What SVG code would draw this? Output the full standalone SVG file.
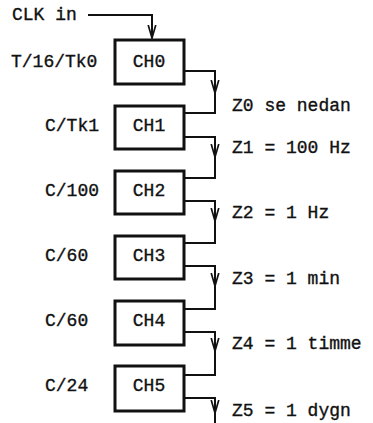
<svg xmlns="http://www.w3.org/2000/svg" width="373" height="423" viewBox="0 0 373 423">
  <style>
    .t { font-family: "Liberation Mono", "DejaVu Sans Mono", monospace; font-size: 18px; fill: #111; stroke: #111; stroke-width: 0.35; }
    .c { text-anchor: middle; }
    .box { fill: #fff; stroke: #111; stroke-width: 3; }
    .wire { fill: none; stroke: #111; stroke-width: 2; }
  </style>
  <defs>
    <!-- open barbed arrowhead, drawn along +x so orient="auto" follows the wire -->
    <marker id="arr" viewBox="0 0 14 10" refX="13" refY="5" markerWidth="14" markerHeight="10" markerUnits="userSpaceOnUse" orient="auto">
      <path d="M0,1.2 L13,5 L0,8.8" fill="none" stroke="#111" stroke-width="1.7"/>
    </marker>
  </defs>

  <rect width="373" height="423" fill="#fff"/>

  <!-- input clock -->
  <text class="t" x="12" y="20">CLK in</text>

  <g id="connectors">
    <path class="wire" d="M88,15 H152 V38" marker-end="url(#arr)"/>
    <!-- CH0 -> CH1 -->
    <path class="wire" d="M184,71 H215 V93" marker-end="url(#arr)"/>
    <path class="wire" d="M215,92 V113 H184"/>
    <!-- CH1 -> CH2 -->
    <path class="wire" d="M184,137 H215 V157" marker-end="url(#arr)"/>
    <path class="wire" d="M215,156 V178 H184"/>
    <!-- CH2 -> CH3 -->
    <path class="wire" d="M184,201 H215 V221" marker-end="url(#arr)"/>
    <path class="wire" d="M215,220 V243 H184"/>
    <!-- CH3 -> CH4 -->
    <path class="wire" d="M184,266 H215 V286" marker-end="url(#arr)"/>
    <path class="wire" d="M215,285 V309 H184"/>
    <!-- CH4 -> CH5 -->
    <path class="wire" d="M184,332 H215 V351" marker-end="url(#arr)"/>
    <path class="wire" d="M215,350 V375 H184"/>
    <!-- CH5 output -->
    <path class="wire" d="M184,398 H215 V413" marker-end="url(#arr)"/>
    <path class="wire" d="M215,412 V423"/>
  </g>

  <g id="ch0">
    <text class="t" x="11" y="67">T/16/Tk0</text>
    <rect class="box" x="115" y="40" width="69" height="44"/>
    <text class="t c" x="149" y="67">CH0</text>
  </g>
  <g id="ch1">
    <text class="t" x="45" y="131">C/Tk1</text>
    <rect class="box" x="115" y="106" width="69" height="43"/>
    <text class="t c" x="149" y="131">CH1</text>
  </g>
  <g id="ch2">
    <text class="t" x="45" y="196">C/100</text>
    <rect class="box" x="115" y="171" width="69" height="43"/>
    <text class="t c" x="149" y="196">CH2</text>
  </g>
  <g id="ch3">
    <text class="t" x="45" y="261">C/60</text>
    <rect class="box" x="115" y="236" width="69" height="43"/>
    <text class="t c" x="149" y="261">CH3</text>
  </g>
  <g id="ch4">
    <text class="t" x="45" y="326">C/60</text>
    <rect class="box" x="115" y="301" width="69" height="44"/>
    <text class="t c" x="149" y="326">CH4</text>
  </g>
  <g id="ch5">
    <text class="t" x="45" y="391">C/24</text>
    <rect class="box" x="115" y="366" width="69" height="45"/>
    <text class="t c" x="149" y="391">CH5</text>
  </g>

  <!-- output labels -->
  <g id="outputs">
    <text class="t" x="232" y="111">Z0 se nedan</text>
    <text class="t" x="232" y="153">Z1 = 100 Hz</text>
    <text class="t" x="232" y="218">Z2 = 1 Hz</text>
    <text class="t" x="232" y="284">Z3 = 1 min</text>
    <text class="t" x="232" y="349">Z4 = 1 timme</text>
    <text class="t" x="232" y="416">Z5 = 1 dygn</text>
  </g>
</svg>
